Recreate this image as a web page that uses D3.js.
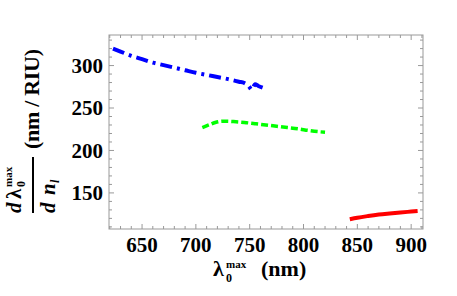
<!DOCTYPE html>
<html>
<head>
<meta charset="utf-8">
<script src="https://cdn.jsdelivr.net/npm/d3@7"></script>
<style>
  body { margin: 0; background: #fff; }
  svg { display: block; }
  text { font-family: "Liberation Serif", "DejaVu Serif", serif; font-weight: bold; fill: #000; }
</style>
</head>
<body>
<svg width="457" height="296"></svg>
<script>
// wavelength (nm) vs sensitivity (nm/RIU)
const blueData = [[623,320],[630,316.5],[640,311.5],[650,307.5],[660,303.5],[670,300.5],[680,297.5],[690,294.5],[700,291.5],[710,289],[720,286.5],[730,284],[740,281],[745,279.5],[749,276],[752,271.5],[755,278],[758,276],[762,274]];
const greenData = [[706,227],[712,230],[718,233],[725,234.5],[735,234],[745,233],[755,231.5],[765,230],[775,228.5],[785,227],[795,225.5],[805,223.5],[815,222],[820,221.5]];
const redData = [[843,119],[850,120.8],[860,122.8],[870,124.5],[880,125.8],[890,127],[900,128],[906,128.6]];

const xTicks = [650, 700, 750, 800, 850, 900];
const yTicks = [150, 200, 250, 300];

const svg = d3.select("svg");
const frame = {left: 109, right: 423, top: 35, bottom: 229};

const x = d3.scaleLinear().domain([619.3, 911]).range([frame.left, frame.right]);
const y = d3.scaleLinear().domain([107.5, 336]).range([frame.bottom, frame.top]);

const axisColor = "#999";
const g = svg.append("g");

// frame
g.append("rect")
  .attr("x", frame.left).attr("y", frame.top)
  .attr("width", frame.right - frame.left).attr("height", frame.bottom - frame.top)
  .attr("fill", "none").attr("stroke", axisColor).attr("stroke-width", 1);

// ticks on all four sides, inward
const xMinor = d3.range(620, 911, 10);
const yMinor = d3.range(110, 336, 10);
xMinor.forEach(v => {
  const len = v % 50 === 0 ? 5 : 3;
  g.append("line").attr("x1", x(v)).attr("x2", x(v)).attr("y1", frame.bottom).attr("y2", frame.bottom - len).attr("stroke", axisColor);
  g.append("line").attr("x1", x(v)).attr("x2", x(v)).attr("y1", frame.top).attr("y2", frame.top + len).attr("stroke", axisColor);
});
yMinor.forEach(v => {
  const len = v % 50 === 0 ? 5 : 3;
  g.append("line").attr("y1", y(v)).attr("y2", y(v)).attr("x1", frame.left).attr("x2", frame.left + len).attr("stroke", axisColor);
  g.append("line").attr("y1", y(v)).attr("y2", y(v)).attr("x1", frame.right).attr("x2", frame.right - len).attr("stroke", axisColor);
});

// tick labels
g.selectAll("text.xt").data(xTicks).join("text")
  .attr("class", "xt")
  .attr("x", d => x(d)).attr("y", 252)
  .attr("text-anchor", "middle").style("font-size", "21px")
  .text(d => d);
g.selectAll("text.yt").data(yTicks).join("text")
  .attr("class", "yt")
  .attr("x", 103).attr("y", d => y(d)).attr("dy", "0.35em")
  .attr("text-anchor", "end").style("font-size", "21px")
  .text(d => d);

// curves
const line = d3.line().x(d => x(d[0])).y(d => y(d[1])).curve(d3.curveMonotoneX);
g.append("path").datum(blueData).attr("d", line)
  .attr("fill", "none").attr("stroke", "#0000ff").attr("stroke-width", 4)
  .attr("stroke-dasharray", "12,5,3,5");
g.append("path").datum(greenData).attr("d", line)
  .attr("fill", "none").attr("stroke", "#00ff00").attr("stroke-width", 3.5)
  .attr("stroke-dasharray", "7,3");
g.append("path").datum(redData).attr("d", line)
  .attr("fill", "none").attr("stroke", "#ff0000").attr("stroke-width", 4);

// x axis title
const xt = svg.append("g");
xt.append("text").attr("x", 213).attr("y", 276).style("font-size", "22px").text("λ");
xt.append("text").attr("x", 226).attr("y", 282).style("font-size", "12px").text("0");
xt.append("text").attr("x", 226).attr("y", 268).style("font-size", "11px").text("max");
xt.append("text").attr("x", 261).attr("y", 276).style("font-size", "22px").text("(nm)");

// y axis title: fraction d λ0max / d nl  then (nm / RIU)
const num = svg.append("g").attr("transform", "translate(21,213) rotate(-90)");
num.append("text").attr("x", 0).attr("y", 0).style("font-size", "21px").style("font-style", "italic").text("d");
num.append("text").attr("x", 14).attr("y", 0).style("font-size", "21px").text("λ");
num.append("text").attr("x", 26).attr("y", 4).style("font-size", "12px").text("0");
num.append("text").attr("x", 26).attr("y", -9).style("font-size", "11px").text("max");

svg.append("line").attr("x1", 33).attr("x2", 33).attr("y1", 157).attr("y2", 213)
  .attr("stroke", "#000").attr("stroke-width", 2);

const den = svg.append("g").attr("transform", "translate(55,213) rotate(-90)");
den.append("text").attr("x", 0).attr("y", 0).style("font-size", "21px").style("font-style", "italic").text("d");
den.append("text").attr("x", 18).attr("y", 0).style("font-size", "21px").style("font-style", "italic").text("n");
den.append("text").attr("x", 30).attr("y", 4).style("font-size", "12px").style("font-style", "italic").text("l");

svg.append("text")
  .attr("transform", "translate(39,99) rotate(-90)")
  .attr("text-anchor", "middle").style("font-size", "22px")
  .attr("textLength", 100).attr("lengthAdjust", "spacing")
  .text("(nm / RIU)");
</script>
</body>
</html>
